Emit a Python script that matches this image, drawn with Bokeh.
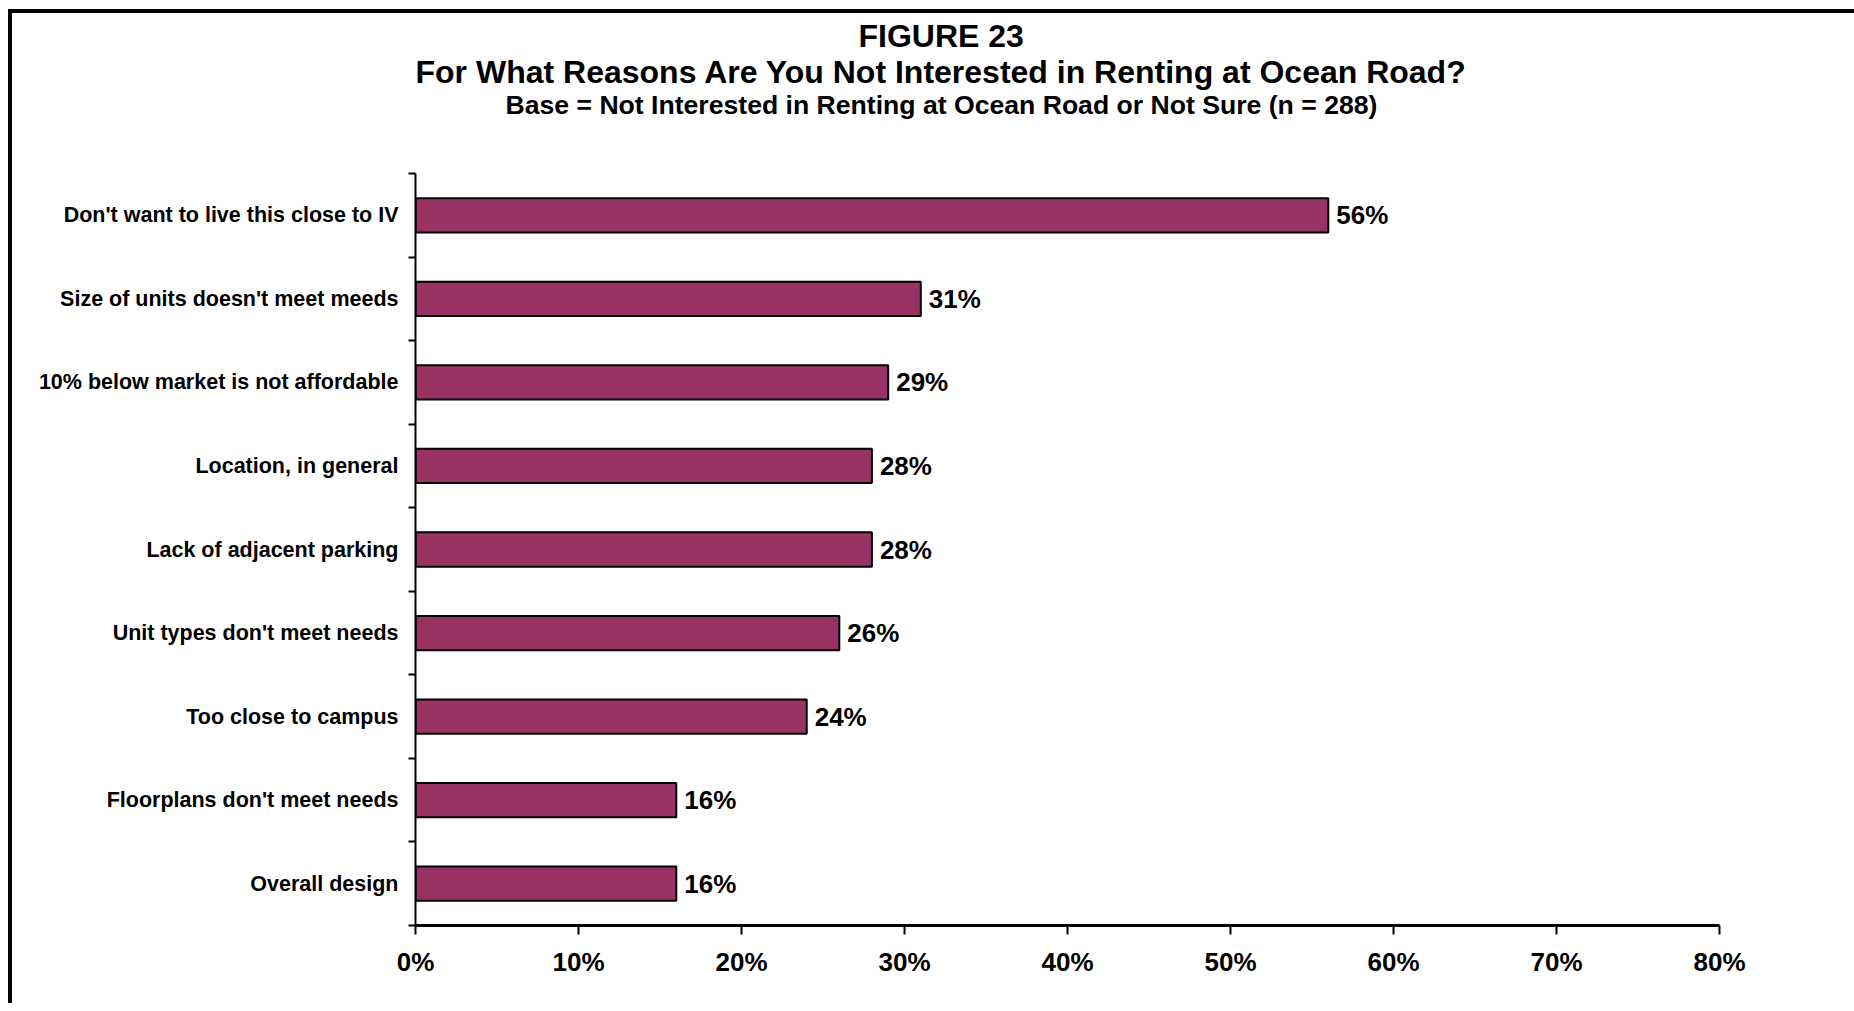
from bokeh.plotting import figure
from bokeh.models import Title, FixedTicker, ColumnDataSource
from bokeh.core.properties import value
from bokeh.embed import file_html
from bokeh.resources import INLINE

categories = [
    "Don't want to live this close to IV",
    "Size of units doesn't meet meeds",
    "10% below market is not affordable",
    "Location, in general",
    "Lack of adjacent parking",
    "Unit types don't meet needs",
    "Too close to campus",
    "Floorplans don't meet needs",
    "Overall design",
]
values = [56, 31, 29, 28, 28, 26, 24, 16, 16]
x_ticks = [0, 10, 20, 30, 40, 50, 60, 70, 80]
x_tick_labels = ["0%", "10%", "20%", "30%", "40%", "50%", "60%", "70%", "80%"]
title_lines = [
    "FIGURE 23",
    "For What Reasons Are You Not Interested in Renting at Ocean Road?",
    "Base = Not Interested in Renting at Ocean Road or Not Sure (n = 288)",
]

FONT = "Liberation Sans"
n = len(categories)
ypos = [n - 0.5 - i for i in range(n)]
src = ColumnDataSource(dict(y=ypos, v=values, lab=[f"{v}%" for v in values]))

p = figure(width=1854, height=1003, x_range=(0, 80), y_range=(0, n),
           output_backend="svg", toolbar_location=None,
           min_border_left=415, min_border_right=135,
           min_border_top=173, min_border_bottom=78)
p.border_fill_color = None
p.background_fill_color = "white"
p.outline_line_color = None
p.grid.visible = False
p.styles = {"box-shadow": "inset 8px 9px 0 0 #ffffff, inset 12px 13px 0 0 #000000"}

p.hbar(y="y", left=0, right="v", height=0.41, source=src,
       fill_color="#993366", line_color="black", line_width=2)
p.text(x="v", y="y", text="lab", source=src, x_offset=8,
       text_baseline="middle", text_align="left",
       text_font=value(FONT), text_font_style="bold",
       text_font_size="26px", text_color="black")

# x axis
xa = p.xaxis[0]
xa.ticker = FixedTicker(ticks=x_ticks, minor_ticks=[])
xa.major_label_overrides = {t: l for t, l in zip(x_ticks, x_tick_labels)}
xa.axis_line_width = 3
xa.axis_line_color = "black"
xa.major_tick_out = 9
xa.major_tick_in = 0
xa.major_tick_line_width = 2
xa.major_tick_line_color = "black"
xa.minor_tick_out = 0
xa.minor_tick_in = 0
xa.major_label_standoff = 12
xa.major_label_text_font = FONT
xa.major_label_text_font_style = "bold"
xa.major_label_text_font_size = "26px"
xa.major_label_text_color = "black"

# y axis
ya = p.yaxis[0]
ya.ticker = FixedTicker(ticks=ypos, minor_ticks=list(range(n + 1)))
ya.major_label_overrides = {y: c for y, c in zip(ypos, categories)}
ya.axis_line_width = 2
ya.axis_line_color = "black"
ya.major_tick_out = 0
ya.major_tick_in = 0
ya.minor_tick_out = 7
ya.minor_tick_in = 0
ya.minor_tick_line_width = 2
ya.minor_tick_line_color = "black"
ya.major_label_standoff = 10
ya.major_label_text_font = FONT
ya.major_label_text_font_style = "bold"
ya.major_label_text_font_size = "21.5px"
ya.major_label_text_color = "black"

# titles: added nearest-the-plot first (a blank spacer sits under the subtitle)
title_sizes = ["32px", "32px", "26.6px"]
title_offsets = [443, 0, 90]
title_standoffs = [2, -5, 0]

p.title.text = ""
p.title.visible = False
p.add_layout(Title(text=" ", standoff=50, text_font_size="2px"), "above")
for i in [2, 1, 0]:
    p.add_layout(Title(text=title_lines[i], align="left", offset=title_offsets[i],
                       standoff=title_standoffs[i], text_font=FONT,
                       text_font_style="bold", text_font_size=title_sizes[i],
                       text_color="black"), "above")

open("out.html", "w").write(file_html(p, INLINE))
